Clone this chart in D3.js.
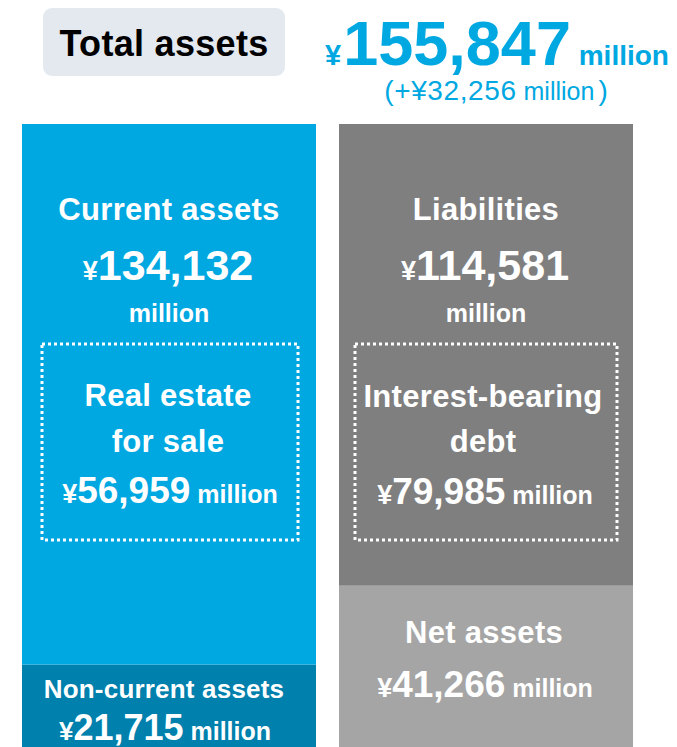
<!DOCTYPE html>
<html>
<head>
<meta charset="utf-8">
<script src="https://cdn.jsdelivr.net/npm/d3@7"></script>
<style>
html,body{margin:0;padding:0;background:#fff;overflow:hidden;}
svg{display:block;font-family:"Liberation Sans",Arial,Helvetica,sans-serif;}
</style>
</head>
<body>
<svg id="chart" width="677" height="747"></svg>
<script>
// ---- data ----
const columns = ["assets", "liabilities"];
const assetCategories = ["Current assets", "Non-current assets"];
const assetValues = [134132, 21715];
const liabilityCategories = ["Liabilities", "Net assets"];
const liabilityValues = [114581, 41266];
const innerCategories = ["Real estate for sale", "Interest-bearing debt"];
const innerValues = [56959, 79985];
const totalAssets = 155847;
const totalChange = 32256;
const titleLabel = "Total assets";
const unitLabel = "million";

// ---- drawing ----
const svg = d3.select("#chart");
const fmt = d3.format(",");

const x = d3.scaleBand().domain(columns).range([22, 633]).paddingInner(23 / 317).paddingOuter(0);
const y = d3.scaleLinear().domain([0, totalAssets]).range([752, 124]);

const colors = {
  "Current assets": "#00a8e2",
  "Non-current assets": "#0080ad",
  "Liabilities": "#7f7f7f",
  "Net assets": "#a5a5a5"
};

function stackOf(cats, vals, col) {
  let acc = 0;
  const out = [];
  for (let i = cats.length - 1; i >= 0; i--) {
    out.push({ col, cat: cats[i], v: vals[i], y0: acc, y1: acc + vals[i] });
    acc += vals[i];
  }
  return out;
}
const segs = stackOf(assetCategories, assetValues, "assets").concat(stackOf(liabilityCategories, liabilityValues, "liabilities"));

svg.selectAll("rect.seg").data(segs).enter().append("rect")
  .attr("class", "seg")
  .attr("x", d => x(d.col))
  .attr("width", x.bandwidth())
  .attr("y", d => y(d.y1))
  .attr("height", d => y(d.y0) - y(d.y1))
  .attr("fill", d => colors[d.cat]);

function label(px, py, parts, color, anchor) {
  const t = svg.append("text").attr("x", px).attr("y", py)
    .attr("text-anchor", anchor || "middle").attr("fill", color || "#fff");
  parts.forEach(p => {
    const ts = t.append("tspan").text(p.t).attr("font-size", p.s).attr("font-weight", p.w || "bold");
    if (p.dx) ts.attr("dx", p.dx);
    if (p.ls) ts.attr("letter-spacing", p.ls);
  });
  return t;
}

// title
svg.append("rect").attr("x", 43).attr("y", 8).attr("width", 242).attr("height", 68)
  .attr("rx", 9).attr("fill", "#e3e9ef");
label(164, 56, [{ t: titleLabel, s: 36, ls: 0.3 }], "#000");

const blue = "#00a8e2";
label(497, 65, [{ t: "¥", s: 29 }, { t: fmt(totalAssets), s: 63, dx: 2 }, { t: " " + unitLabel, s: 28 }], blue);
label(496, 100, [{ t: "(+¥" + fmt(totalChange), s: 28, w: "normal", ls: 0.6 }, { t: " " + unitLabel, s: 25, w: "normal" }, { t: ")", s: 28, w: "normal", dx: 4 }], blue);

const cxA = x("assets") + x.bandwidth() / 2;
const cxL = x("liabilities") + x.bandwidth() / 2;

const topA = y(totalAssets);
label(cxA, topA + 96, [{ t: assetCategories[0], s: 31, ls: 0.3 }]);
label(cxA - 1, topA + 156, [{ t: "¥", s: 27 }, { t: fmt(assetValues[0]), s: 43 }]);
label(cxA, topA + 198, [{ t: unitLabel, s: 25 }]);

label(cxL, topA + 96, [{ t: liabilityCategories[0], s: 31, ls: 0.3 }]);
label(cxL - 1, topA + 156, [{ t: "¥", s: 27 }, { t: fmt(liabilityValues[0]), s: 43 }]);
label(cxL, topA + 198, [{ t: unitLabel, s: 25 }]);

const boxes = [
  { x0: x("assets") + 20, x1: x("assets") + x.bandwidth() - 18 },
  { x0: x("liabilities") + 16, x1: x("liabilities") + x.bandwidth() - 16 }
];
boxes.forEach(b => {
  svg.append("rect").attr("x", b.x0).attr("y", 344).attr("width", b.x1 - b.x0).attr("height", 196)
    .attr("fill", "none").attr("stroke", "#fff").attr("stroke-width", 3).attr("stroke-dasharray", "3,3");
});

label(cxA - 1, 406, [{ t: "Real estate", s: 31, ls: 0.3 }]);
label(cxA - 1, 452, [{ t: "for sale", s: 31, ls: 0.3 }]);
label(cxA + 1, 503, [{ t: "¥", s: 27 }, { t: fmt(innerValues[0]), s: 37 }, { t: " " + unitLabel, s: 25 }]);

label(cxL - 3, 407, [{ t: "Interest-bearing", s: 31, ls: 0.3 }]);
label(cxL - 3, 452, [{ t: "debt", s: 31, ls: 0.3 }]);
label(cxL - 1, 504, [{ t: "¥", s: 27 }, { t: fmt(innerValues[1]), s: 37 }, { t: " " + unitLabel, s: 25 }]);

const topNC = y(assetValues[1]);
label(cxA - 5, topNC + 34, [{ t: assetCategories[1], s: 26, ls: 0.2 }]);
label(cxA - 4, topNC + 76, [{ t: "¥", s: 26 }, { t: fmt(assetValues[1]), s: 36 }, { t: " " + unitLabel, s: 25 }]);

const topNA = y(liabilityValues[1]);
label(cxL - 2, topNA + 57, [{ t: liabilityCategories[1], s: 31, ls: 0.3 }]);
label(cxL - 1, topNA + 111, [{ t: "¥", s: 27 }, { t: fmt(liabilityValues[1]), s: 37 }, { t: " " + unitLabel, s: 25 }]);
</script>
</body>
</html>
